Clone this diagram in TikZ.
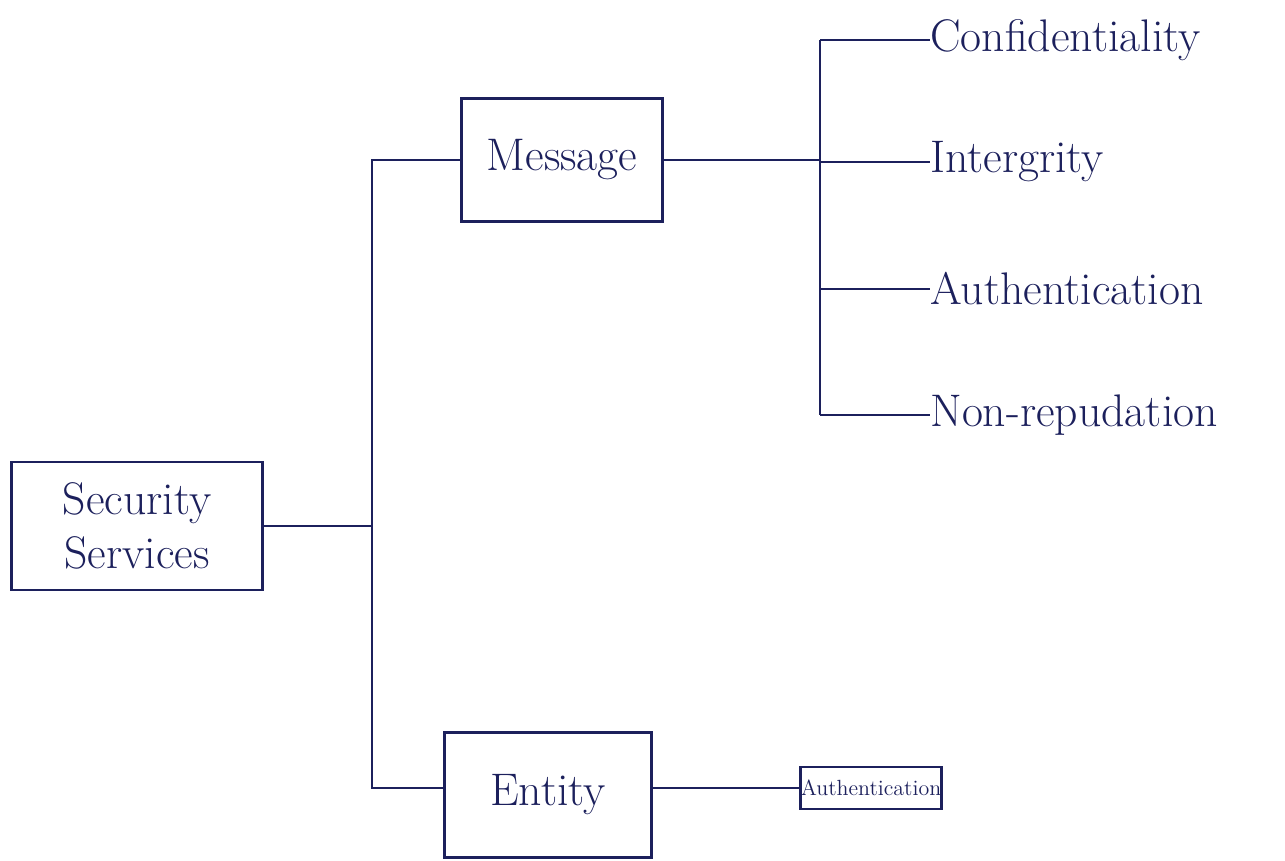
\documentclass[tikz,border=0pt]{standalone}
\usepackage{tikz}
\usetikzlibrary{positioning}
\definecolor{ink}{RGB}{28,32,92}

\begin{document}
\begin{tikzpicture}[x=0.02cm,y=-0.02cm,
    wire/.style={draw=ink, line width=1.4pt},
    box/.style={draw=ink, line width=1.5pt, text=ink, inner sep=0pt,
        font=\fontsize{26}{31}\selectfont, align=center},
    smallbox/.style={draw=ink, line width=1.5pt, text=ink, inner sep=0pt,
        minimum width=2.74cm, minimum height=0.84cm, font=\fontsize{12.5}{14}\selectfont},
    lbl/.style={anchor=west, text=ink, inner sep=0pt, font=\fontsize{26}{31}\selectfont}]
    \useasboundingbox (0,0) rectangle (1285,861);
    % boxes
    \node[box, minimum width=5.02cm, minimum height=2.56cm] (sec) at (137,526) {Security\\Services};
    \node[box, minimum width=4.02cm, minimum height=2.46cm] (msg) at (562,160) {Message};
    \node[box, minimum width=4.14cm, minimum height=2.5cm] (ent) at (548,795) {Entity};
    \node[smallbox] (eauth) at (871,788) {Authentication};
    % message services
    \node[lbl] (conf) at (930,40) {Confidentiality};
    \node[lbl] (integ) at (930,162) {Intergrity};
    \node[lbl] (mauth) at (930,289) {Authentication};
    \node[lbl] (nonr) at (930,415) {Non-repudation};
    \coordinate (trunk) at (372,0);
    \coordinate (spine) at (820,0);
    % connectors
    \draw[wire] (sec.east) -- (sec.east -| trunk);
    \draw[wire] (msg.west) -- (msg.west -| trunk) -- (eauth.west -| trunk) -- (eauth.west -| ent.west);
    \draw[wire] (msg.east) -- (msg.east -| spine);
    \draw[wire] (conf.west -| spine) -- (nonr.west -| spine);
    \foreach \n in {conf,integ,mauth,nonr}
        \draw[wire] (\n.west -| spine) -- (\n.west);
    \draw[wire] (eauth.west -| ent.east) -- (eauth.west);
\end{tikzpicture}
\end{document}
